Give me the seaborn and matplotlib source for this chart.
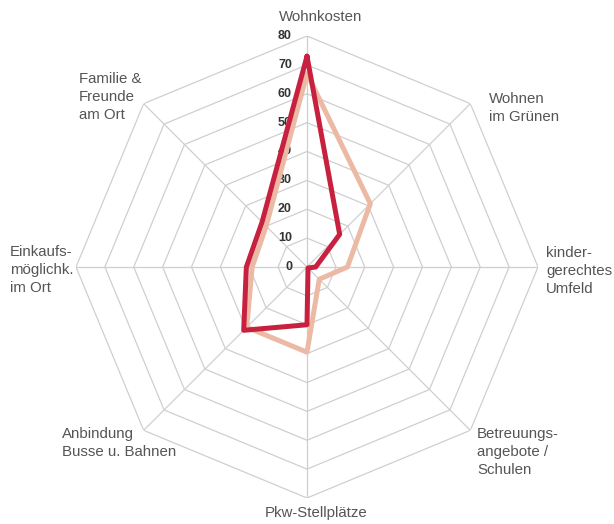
import numpy as np
import pandas as pd
import matplotlib
matplotlib.use("Agg")
import matplotlib.pyplot as plt
import matplotlib.transforms as mtransforms
import seaborn as sns

categories = ["Wohnkosten", "Wohnen\nim Grünen", "kinder-\ngerechtes\nUmfeld",
              "Betreuungs-\nangebote /\nSchulen", "Pkw-Stellplätze",
              "Anbindung\nBusse u. Bahnen", "Einkaufs-\nmöglichk.\nim Ort",
              "Familie &\nFreunde\nam Ort"]
series_dark = [73, 16, 3, 0.5, 20, 31, 21, 22]
series_light = [67, 31, 14, 6, 29.5, 29.5, 19, 20]
tick_values = [0, 10, 20, 30, 40, 50, 60, 70, 80]

sns.set_theme(style="white")
plt.rcParams["font.family"] = ["Liberation Sans", "DejaVu Sans"]

W, H = 614, 524
fig = plt.figure(figsize=(W / 100, H / 100), dpi=100)
cx, cy, R = 307, 267, 231
ax = fig.add_axes([(cx - R) / W, 1 - (cy + R) / H, 2 * R / W, 2 * R / H],
                  projection="polar")
ax.set_theta_zero_location("N")
ax.set_theta_direction(-1)
ax.set_ylim(0, 80)
ax.grid(False)
ax.spines["polar"].set_visible(False)
ax.set_xticks([])
ax.set_yticks([])
ax.set_facecolor("none")

n = len(categories)
angles = np.arange(n) * 2 * np.pi / n
closed_angles = np.append(angles, angles[0])

grid_color = "#cfcfcf"
for v in tick_values[1:]:
    ax.plot(closed_angles, [v] * (n + 1), color=grid_color, lw=0.9, zorder=1)
for a in angles:
    ax.plot([a, a], [0, 80], color=grid_color, lw=0.9, zorder=1)

def make_df(vals, name):
    return pd.DataFrame({"theta": closed_angles,
                         "r": list(vals) + [vals[0]],
                         "series": name})

df_light = make_df(series_light, "light")
df_dark = make_df(series_dark, "dark")
sns.lineplot(data=df_light, x="theta", y="r", sort=False, estimator=None,
             color="#ECBAA4", lw=3.6, ax=ax, zorder=3)
sns.lineplot(data=df_dark, x="theta", y="r", sort=False, estimator=None,
             color="#C8213F", lw=3.6, ax=ax, zorder=4)
ax.set_xlabel("")
ax.set_ylabel("")
ax.set_xticks([])
ax.set_yticks([])
ax.set_ylim(0, 80)

off = mtransforms.offset_copy(ax.transData, fig=fig, x=-15, y=0, units="dots")
for v in tick_values:
    ax.text(0, v, str(v), transform=off, ha="right", va="center",
            fontsize=9, fontweight="bold", color="#333333", zorder=2)

label_pos = [
    (321, 17, "center"),
    (489, 108, "left"),
    (546, 271, "left"),
    (477, 452, "left"),
    (316, 513, "center"),
    (62, 443, "left"),
    (10, 270, "left"),
    (79, 97, "left"),
]
for text, (px, py, ha) in zip(categories, label_pos):
    fig.text(px / W, 1 - py / H, text, ha=ha, va="center", multialignment=ha,
             fontsize=10.8, color="#555555", linespacing=1.32)

fig.savefig("out.png", dpi=100)
